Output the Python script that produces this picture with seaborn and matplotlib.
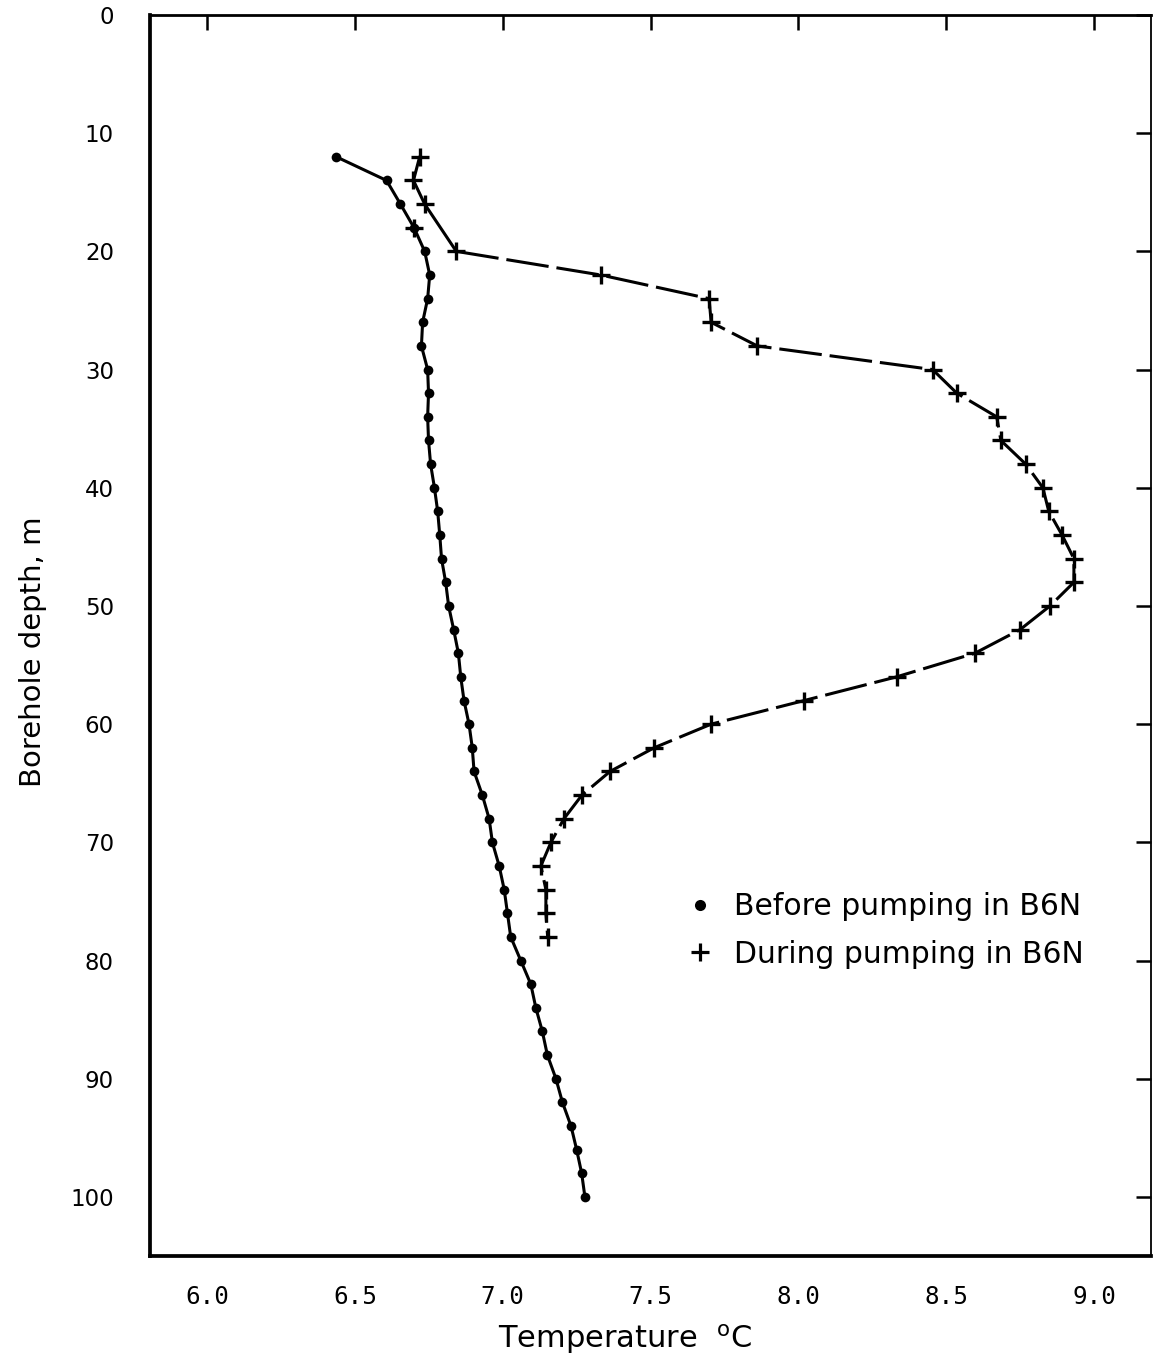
import matplotlib
matplotlib.use("Agg")
import matplotlib.pyplot as plt
import seaborn as sns
import pandas as pd
from matplotlib.lines import Line2D

# Borehole temperature profiles (depth in m, temperature in deg C)
depth_before = list(range(12, 101, 2))
temp_before = [6.437, 6.607, 6.654, 6.700, 6.736, 6.753, 6.746, 6.729, 6.725, 6.746,
               6.749, 6.746, 6.749, 6.756, 6.769, 6.780, 6.787, 6.793, 6.807, 6.817,
               6.834, 6.850, 6.858, 6.869, 6.886, 6.897, 6.903, 6.931, 6.954, 6.965,
               6.988, 7.005, 7.016, 7.027, 7.061, 7.095, 7.112, 7.134, 7.151, 7.180,
               7.202, 7.231, 7.250, 7.267, 7.278]

depth_during = list(range(12, 79, 2))
temp_during = [6.719, 6.698, 6.736, 6.700, 6.843, 7.332, 7.698, 7.705, 7.861, 8.454,
               8.536, 8.671, 8.685, 8.769, 8.827, 8.847, 8.892, 8.932, 8.932, 8.851,
               8.750, 8.597, 8.332, 8.020, 7.705, 7.512, 7.363, 7.268, 7.207, 7.163,
               7.129, 7.146, 7.146, 7.152]
# reading at 18 m falls on the undisturbed profile; the curve is drawn past it
off_curve_depths = [18]

x_ticks = [6.0, 6.5, 7.0, 7.5, 8.0, 8.5, 9.0]
y_ticks = list(range(0, 101, 10))
label_before = "Before pumping in B6N"
label_during = "During pumping in B6N"

df_before = pd.DataFrame({"temp": temp_before, "depth": depth_before})
df_during = pd.DataFrame({"temp": temp_during, "depth": depth_during})
df_during_curve = df_during[~df_during["depth"].isin(off_curve_depths)]

sns.set_style("white")
plt.rcParams["font.family"] = ["DejaVu Sans"]
plt.rcParams.update({"text.color": "black", "axes.labelcolor": "black",
                     "xtick.color": "black", "ytick.color": "black"})

fig = plt.figure(figsize=(11.55, 13.62), dpi=100)
ax = fig.add_axes([0.1299, 0.0778, 0.8667, 0.9112])

# profile before pumping: solid line with filled dots
sns.lineplot(data=df_before, x="temp", y="depth", sort=False, estimator=None,
             color="black", linewidth=2.2, ax=ax)
sns.lineplot(data=df_before, x="temp", y="depth", sort=False, estimator=None,
             color="black", linewidth=0, marker="o", markersize=7,
             markeredgewidth=0, ax=ax)

# profile during pumping: solid near the top, broken line below
n_top = int((df_during_curve["depth"] <= 20).sum())
sns.lineplot(data=df_during_curve.iloc[:n_top], x="temp", y="depth", sort=False,
             estimator=None, color="black", linewidth=2.2, ax=ax)
sns.lineplot(data=df_during_curve.iloc[n_top - 1:], x="temp", y="depth", sort=False,
             estimator=None, color="black", linewidth=2.2, ax=ax,
             linestyle=(0, (14, 2.6)))
sns.lineplot(data=df_during, x="temp", y="depth", sort=False, estimator=None,
             color="black", linewidth=0, marker="+", markersize=13,
             markeredgewidth=2.4, markeredgecolor="black", ax=ax)

ax.set_xlim(5.807, 9.193)
ax.set_ylim(105, 0)
ax.set_xticks(x_ticks)
ax.set_xticklabels([f"{v:.1f}" for v in x_ticks], family="DejaVu Sans Mono",
                   fontsize=17.5)
ax.set_yticks(y_ticks)
ax.set_yticklabels([str(v) for v in y_ticks], fontsize=16.5)

ax.tick_params(axis="both", direction="in", length=11, width=1.8,
               top=True, right=True, color="black", labelcolor="black")
ax.tick_params(axis="x", pad=21)
ax.tick_params(axis="y", pad=26)

for side, lw in (("left", 2.7), ("bottom", 2.7), ("top", 2.0), ("right", 1.3)):
    ax.spines[side].set_visible(True)
    ax.spines[side].set_color("black")
    ax.spines[side].set_linewidth(lw)

ax.set_xlabel(r"Temperature  $^{\mathrm{o}}$C", fontsize=22)
ax.xaxis.set_label_coords(0.4745, -0.053)
ax.set_ylabel("Borehole depth, m", fontsize=21)
ax.yaxis.set_label_coords(-0.103, 0.487)

handles = [
    Line2D([], [], color="black", linestyle="none", marker="o", markersize=8,
           markeredgewidth=0),
    Line2D([], [], color="black", linestyle="none", marker="+", markersize=13,
           markeredgewidth=2.3),
]
ax.legend(handles, [label_before, label_during], loc="upper left",
          bbox_to_anchor=(685 / 1155, 1 - 892 / 1362),
          bbox_transform=fig.transFigure, frameon=False, fontsize=21.5,
          handlelength=1.0, handletextpad=0.65, labelspacing=0.62,
          borderpad=0, borderaxespad=0)

fig.savefig("out.png", dpi=100, facecolor="white")
